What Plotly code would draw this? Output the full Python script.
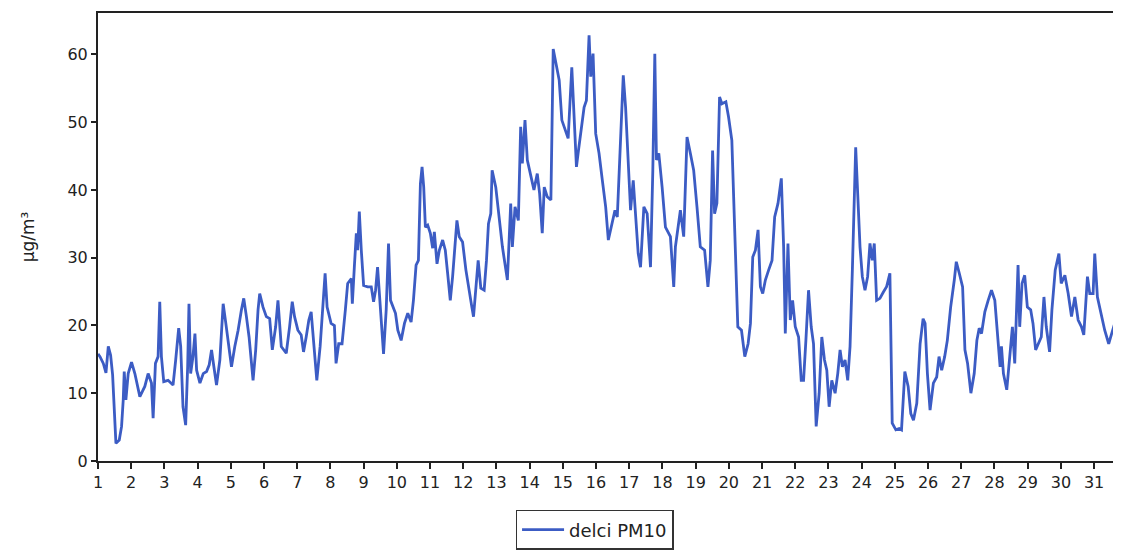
import plotly.graph_objects as go

# time in days of the month, PM10 concentration in µg/m³
day = [
1.00,1.06,1.16,1.24,1.31,1.38,1.44,1.54,1.64,1.71,1.76,1.79,1.84,1.91,2.01,2.11,2.26,2.41,2.51,2.61,2.66,2.73,2.81,2.86,2.91,2.98,
3.11,3.26,3.34,3.43,3.49,3.56,3.64,3.70,3.74,3.79,3.86,3.92,3.97,4.07,4.17,4.27,4.35,4.42,4.49,4.57,4.67,4.77,4.85,4.92,
5.02,5.12,5.22,5.32,5.39,5.47,5.55,5.67,5.75,5.82,5.87,5.97,6.07,6.17,6.25,6.35,6.42,6.52,6.67,6.77,6.85,6.92,
7.02,7.12,7.19,7.27,7.35,7.42,7.49,7.59,7.69,7.77,7.84,7.90,8.02,8.12,8.17,8.25,8.35,8.45,8.52,8.63,8.66,8.72,8.78,8.82,8.87,8.93,
9.00,9.12,9.23,9.30,9.36,9.42,9.48,9.60,9.68,9.75,9.81,9.88,9.96,10.03,10.13,10.23,10.33,10.43,10.50,10.58,10.65,10.71,10.76,10.81,10.86,10.93,
11.01,11.08,11.13,11.21,11.28,11.38,11.46,11.53,11.61,11.68,11.75,11.81,11.88,11.98,12.08,12.18,12.26,12.31,12.38,12.45,12.53,12.63,12.70,12.76,12.83,12.87,12.98,
13.08,13.18,13.33,13.38,13.43,13.48,13.56,13.66,13.73,13.78,13.86,13.93,14.04,14.13,14.23,14.30,14.38,14.44,14.53,14.64,14.71,14.79,14.89,14.97,
15.07,15.16,15.27,15.34,15.41,15.47,15.57,15.64,15.71,15.79,15.84,15.91,15.99,16.09,16.19,16.29,16.37,16.47,16.57,16.64,16.74,16.82,16.89,16.97,
17.04,17.12,17.19,17.27,17.34,17.44,17.54,17.64,17.71,17.77,17.82,17.89,17.99,18.09,18.24,18.34,18.39,18.54,18.64,18.74,18.84,18.94,
19.04,19.14,19.27,19.37,19.44,19.51,19.57,19.64,19.72,19.79,19.91,19.99,20.09,20.20,20.27,20.38,20.48,20.58,20.65,20.72,20.80,20.88,20.95,
21.02,21.10,21.20,21.30,21.38,21.48,21.58,21.65,21.70,21.78,21.85,21.92,22.00,22.10,22.18,22.25,22.32,22.40,22.48,22.55,22.63,22.72,22.80,22.88,22.95,
23.02,23.10,23.20,23.28,23.35,23.42,23.50,23.58,23.65,23.72,23.77,23.82,23.88,23.95,24.02,24.10,24.18,24.25,24.32,24.38,24.45,24.55,24.65,24.75,24.85,24.92,
25.03,25.13,25.20,25.30,25.40,25.48,25.56,25.66,25.76,25.85,25.91,25.98,26.06,26.16,26.26,26.33,26.41,26.50,26.58,26.68,26.79,26.85,26.94,
27.04,27.11,27.19,27.29,27.39,27.47,27.54,27.61,27.71,27.81,27.91,28.01,28.11,28.17,28.21,28.27,28.37,28.47,28.54,28.61,28.71,28.76,28.83,28.91,28.99,
29.09,29.16,29.24,29.31,29.41,29.49,29.56,29.66,29.73,29.83,29.94,30.01,30.12,30.22,30.32,30.42,30.52,30.62,30.69,30.80,30.87,30.97,
31.02,31.10,31.20,31.32,31.44,31.52,31.62,31.70]

pm10 = [
15.8,15.4,14.4,13.0,16.9,15.6,12.7,2.6,3.1,5.1,9.0,13.2,9.0,12.9,14.6,12.9,9.5,11.0,12.9,11.5,6.3,14.4,15.4,23.5,15.4,11.7,
11.9,11.2,14.9,19.6,16.9,8.0,5.3,13.9,23.2,12.9,15.4,18.8,13.4,11.5,12.9,13.2,14.2,16.4,13.9,11.2,14.9,23.2,20.3,17.3,
13.9,16.9,19.3,22.3,24.0,21.3,18.3,11.9,16.4,22.3,24.7,22.7,21.3,21.0,16.4,19.8,23.7,16.9,15.9,19.8,23.5,21.3,
19.3,18.6,16.1,18.3,20.8,22.0,18.3,11.9,16.9,22.7,27.7,22.7,20.3,20.0,14.4,17.3,17.3,22.3,26.2,26.9,23.2,28.6,33.6,31.1,36.8,31.1,
25.9,25.7,25.7,23.5,25.2,28.6,24.2,15.8,22.3,32.1,23.7,22.7,21.8,19.3,17.8,20.3,21.8,20.5,23.7,28.9,29.6,40.9,43.4,40.4,34.5,34.8,
33.6,31.4,33.8,29.1,31.1,32.6,31.1,27.7,23.7,27.2,31.1,35.5,33.1,32.3,28.2,24.7,22.7,21.3,26.2,29.6,25.5,25.2,29.6,35.0,36.5,42.9,40.4,
35.5,31.6,26.7,32.6,38.0,31.6,37.5,35.5,49.3,43.9,50.3,44.4,41.9,40.0,42.4,39.5,33.6,40.4,39.0,38.5,60.8,58.6,56.2,50.3,
48.8,47.6,58.1,51.7,43.4,45.8,49.3,52.2,53.2,62.8,56.7,60.1,48.3,45.4,41.4,37.5,32.6,35.0,37.0,36.0,48.3,56.9,52.2,42.9,
37.0,41.4,36.5,30.6,28.6,37.5,36.5,28.6,42.9,60.1,44.4,45.4,40.4,34.5,33.1,25.7,31.6,37.0,33.1,47.8,45.4,42.9,
37.5,31.6,31.1,25.7,29.6,45.8,36.5,38.0,53.7,52.7,53.0,50.8,47.3,29.6,19.8,19.3,15.4,17.3,20.3,30.1,31.1,34.1,25.7,
24.7,26.7,28.2,29.6,36.0,38.0,41.7,31.6,18.8,32.1,20.8,23.7,19.8,18.3,11.9,11.9,17.8,25.2,19.8,17.3,5.1,10.0,18.3,14.9,13.4,
8.0,11.9,10.0,12.9,16.4,13.9,14.9,11.9,16.9,28.2,38.5,46.3,39.5,31.6,27.2,25.2,27.2,32.1,29.6,32.1,23.7,24.0,24.9,25.7,27.7,5.6,
4.6,4.8,4.6,13.2,11.0,7.0,6.0,8.5,17.3,21.0,20.3,12.9,7.5,11.5,12.4,15.4,13.4,15.4,17.8,22.7,26.7,29.4,27.7,
25.7,16.4,14.4,10.0,12.9,17.8,19.6,18.8,22.0,23.7,25.2,23.7,16.9,13.9,16.9,12.9,10.5,15.4,19.8,14.4,28.9,19.8,26.2,27.4,22.7,
22.3,20.3,16.4,17.3,18.3,24.2,19.8,16.1,22.3,28.2,30.6,26.2,27.4,24.7,21.3,24.2,20.8,19.8,18.6,27.2,24.7,24.7,
30.6,24.2,21.8,19.3,17.3,18.8,20.3,21.5]

tick_vals = list(range(1, 32))
tick_text = [str(d) for d in tick_vals]
y_ticks = [0, 10, 20, 30, 40, 50, 60]

series_name = "delci PM10"
y_title = "µg/m³"

fig = go.Figure()
fig.add_trace(go.Scatter(
    x=day, y=pm10, mode="lines", name=series_name,
    line=dict(color="#3c5cc4", width=2.8),
))

font_family = "DejaVu Sans, Verdana, sans-serif"
fig.update_layout(
    width=1113, height=542,
    margin=dict(l=90, r=3, t=5, b=89),
    paper_bgcolor="white", plot_bgcolor="white",
    font=dict(family=font_family, size=16, color="#222"),
    showlegend=True,
    legend=dict(
        xref="container", yref="container",
        x=0.527, xanchor="center", y=0.074, yanchor="top",
        orientation="h", itemwidth=42,
        bordercolor="#333", borderwidth=1.5,
        font=dict(size=18, color="#222"),
        bgcolor="white",
    ),
)
fig.update_xaxes(
    range=[1, 31.66], tickmode="array", tickvals=tick_vals, ticktext=tick_text,
    showgrid=False, zeroline=False,
    showline=True, linecolor="#222", linewidth=2, mirror=True,
    ticks="outside", ticklen=6, tickcolor="#222", tickwidth=1.5,
    tickfont=dict(size=16, color="#222"),
)
fig.update_yaxes(
    range=[0, 66.1], tickvals=y_ticks,
    showgrid=False, zeroline=False,
    showline=True, linecolor="#222", linewidth=2, mirror=True,
    ticks="outside", ticklen=5, tickcolor="#222", tickwidth=1.5,
    tickfont=dict(size=16, color="#222"),
    title=dict(text=y_title, font=dict(size=17, color="#222"), standoff=28),
)

fig.write_html("out.html")
